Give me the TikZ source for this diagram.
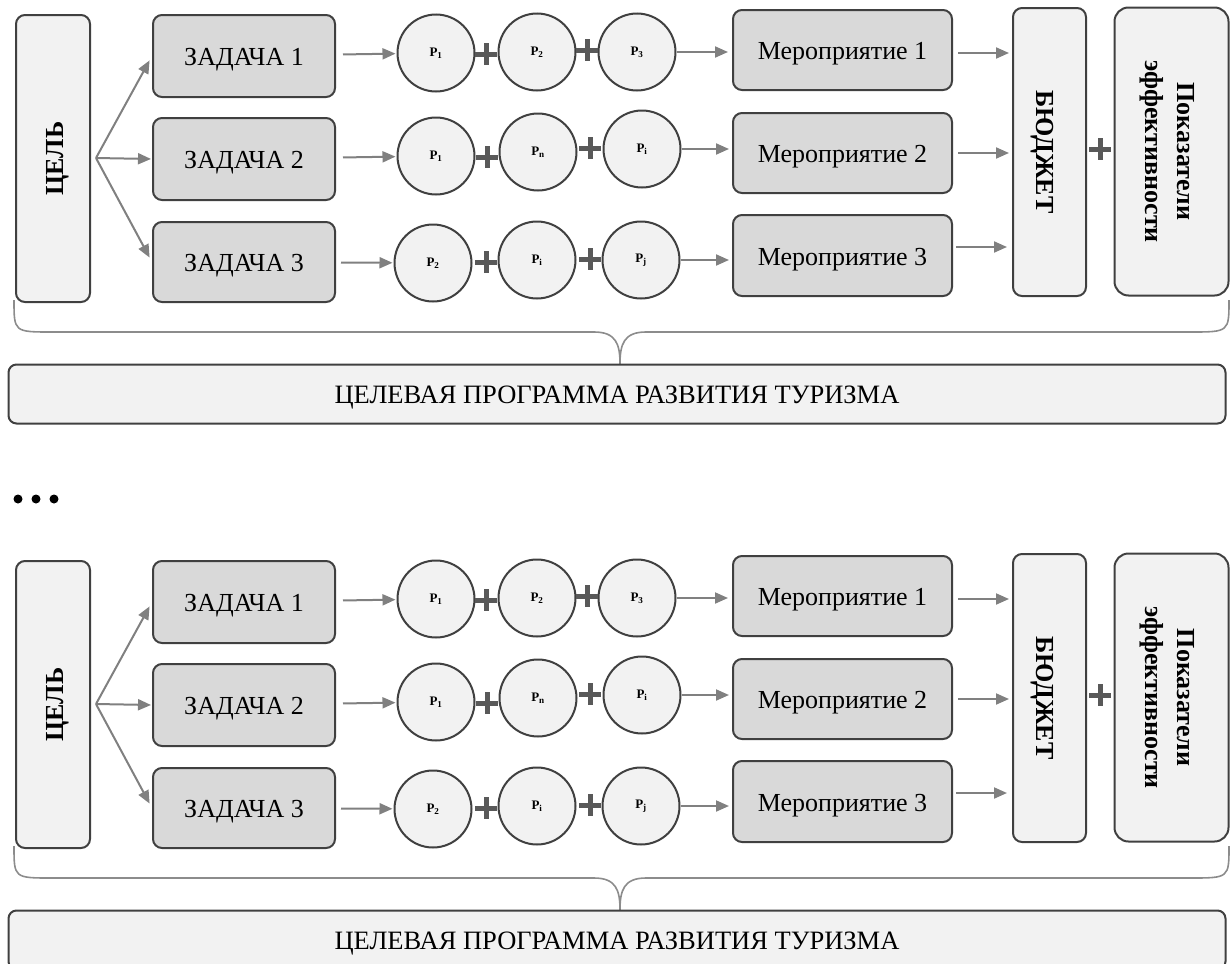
\documentclass[tikz,border=0pt]{standalone}
\usepackage{fontspec}
\setmainfont{Liberation Serif}
\usetikzlibrary{arrows.meta,calc}
\definecolor{edgeline}{HTML}{404040}
\definecolor{lightfill}{HTML}{F2F2F2}
\definecolor{darkfill}{HTML}{D9D9D9}
\definecolor{arrowgray}{HTML}{808080}
\definecolor{plusgray}{HTML}{595959}
\definecolor{bracegray}{HTML}{8C8C8C}
\tikzset{
  basebox/.style={draw=edgeline, line width=2pt, rounded corners=9pt,
    inner sep=0pt, text height=19pt, text depth=0pt,
    font=\fontsize{26}{33}\selectfont},
  lightbox/.style={basebox, fill=lightfill},
  darkbox/.style={basebox, fill=darkfill},
  sidelabel/.style={inner sep=0pt, align=center,
    font=\fontsize{26}{32}\selectfont\bfseries},
  pcircle/.style={circle, draw=edgeline, line width=2pt, fill=lightfill,
    minimum size=77pt, inner sep=0pt, font=\fontsize{13}{14}\selectfont\bfseries},
  arr/.style={draw=arrowgray, line width=2pt,
    -{Triangle[length=13pt,width=11pt]}},
  plusline/.style={draw=plusgray, line width=5pt},
  plussign/.pic={\draw[plusline] (-11,0) -- (11,0) (0,-11) -- (0,11);},
  bracepath/.style={draw=bracegray, line width=1.6pt},
}
\begin{document}
\begin{tikzpicture}[x=1pt,y=-1pt]
\useasboundingbox (0,0) rectangle (1232,964);
\clip (0,0) rectangle (1232,964);

\foreach \p/\dy in {a/0,b/546}{
\begin{scope}[yshift=-\dy pt]
  % goal and tasks
  \node[lightbox, minimum width=287pt, minimum height=74pt, rotate=90,
        text height=21pt, font=\fontsize{26}{30}\selectfont\bfseries]
        (\p-goal) at (53,158.5) {ЦЕЛЬ};
  \coordinate (\p-fork) at (96,158);
  \node[darkbox, minimum width=182pt, minimum height=82pt] (\p-t1) at (244,56) {ЗАДАЧА 1};
  \node[darkbox, minimum width=182pt, minimum height=82pt] (\p-t2) at (244,159) {ЗАДАЧА 2};
  \node[darkbox, minimum width=182pt, minimum height=80pt] (\p-t3) at (244,262) {ЗАДАЧА 3};

  % resources
  \node[pcircle] (\p-c11) at (436,53) {P\textsubscript{1}};
  \node[pcircle] (\p-c12) at (537,52) {P\textsubscript{2}};
  \node[pcircle] (\p-c13) at (637,52) {P\textsubscript{3}};
  \node[pcircle] (\p-c21) at (436,156) {P\textsubscript{1}};
  \node[pcircle] (\p-c22) at (538,152) {P\textsubscript{n}};
  \node[pcircle] (\p-c23) at (642,149) {P\textsubscript{i}};
  \node[pcircle] (\p-c31) at (433,263) {P\textsubscript{2}};
  \node[pcircle] (\p-c32) at (537,260) {P\textsubscript{i}};
  \node[pcircle] (\p-c33) at (641,260) {P\textsubscript{j}};
  \pic at (486,54) {plussign};
  \pic at (587,50) {plussign};
  \pic at (487,157) {plussign};
  \pic at (590,148) {plussign};
  \pic at (486,262) {plussign};
  \pic at (590,259) {plussign};

  % measures, budget, indicators
  \node[darkbox, minimum width=219pt, minimum height=80pt] (\p-m1) at (842.5,50) {Мероприятие 1};
  \node[darkbox, minimum width=219pt, minimum height=80pt] (\p-m2) at (842.5,153) {Мероприятие 2};
  \node[darkbox, minimum width=219pt, minimum height=81pt] (\p-m3) at (842.5,255.5) {Мероприятие 3};
  \node[lightbox, minimum width=288pt, minimum height=73pt, rotate=-90,
        text height=26pt, font=\fontsize{26}{30}\selectfont\bfseries]
        (\p-bud) at (1049.5,152) {БЮДЖЕТ};
  \node[lightbox, minimum width=288pt, minimum height=114pt, rotate=-90,
        rounded corners=14pt] (\p-pok) at (1171.5,151.5) {};
  \node[sidelabel, rotate=-90] (\p-poktext) at (1167.5,151.5)
        {Показатели\\эффективности};
  \pic at (1100,149) {plussign};

  % connectors
  \draw[arr, shorten >=5pt] (\p-fork) -- (\p-t1.west);
  \draw[arr, shorten >=1pt] (\p-fork) -- (\p-t2.west);
  \draw[arr, shorten >=5pt] (\p-fork) -- (\p-t3.west);
  \draw[arr, shorten <=7pt, shorten >=1pt] (\p-t1) -- (\p-c11);
  \draw[arr, shorten <=7pt, shorten >=1pt] (\p-t2) -- (\p-c21);
  \draw[arr, shorten <=5pt, shorten >=1pt] (\p-t3) -- (\p-c31);
  \draw[arr, shorten >=4pt] (\p-c13.east) -- (\p-c13.east -| \p-m1.west);
  \draw[arr, shorten >=3pt] (\p-c23.east) -- (\p-c23.east -| \p-m2.west);
  \draw[arr, shorten >=3pt] (\p-c33.east) -- (\p-c33.east -| \p-m3.west);
  \draw[arr, shorten <=5pt, shorten >=3pt] (\p-m1.east |- 0,53) -- (\p-bud.south |- 0,53);
  \draw[arr, shorten <=5pt, shorten >=3pt] (\p-m2.east) -- (\p-m2.east -| \p-bud.south);
  \draw[arr, shorten <=3pt, shorten >=5pt] (\p-m3.east |- 0,247) -- (\p-bud.south |- 0,247);

  % brace and programme
  \coordinate (\p-tip) at (620,364);
  \draw[bracepath] (14,300) .. controls (14,332) .. (52,332) -- (594,332)
     .. controls (616,332) and (620,344) .. (\p-tip)
     .. controls (620,344) and (624,332) .. (646,332) -- (1190,332)
     .. controls (1229,332) .. (1229,300);
  \node[lightbox, minimum width=1217pt, minimum height=59pt, rounded corners=8pt,
        font=\fontsize{26.5}{30}\selectfont] (\p-prog) at (617,394) {ЦЕЛЕВАЯ ПРОГРАММА РАЗВИТИЯ ТУРИЗМА};
\end{scope}
}

% continuation mark
\fill (18,499) circle (4.5) (36,499) circle (4.5) (54,499) circle (4.5);
\end{tikzpicture}
\end{document}
